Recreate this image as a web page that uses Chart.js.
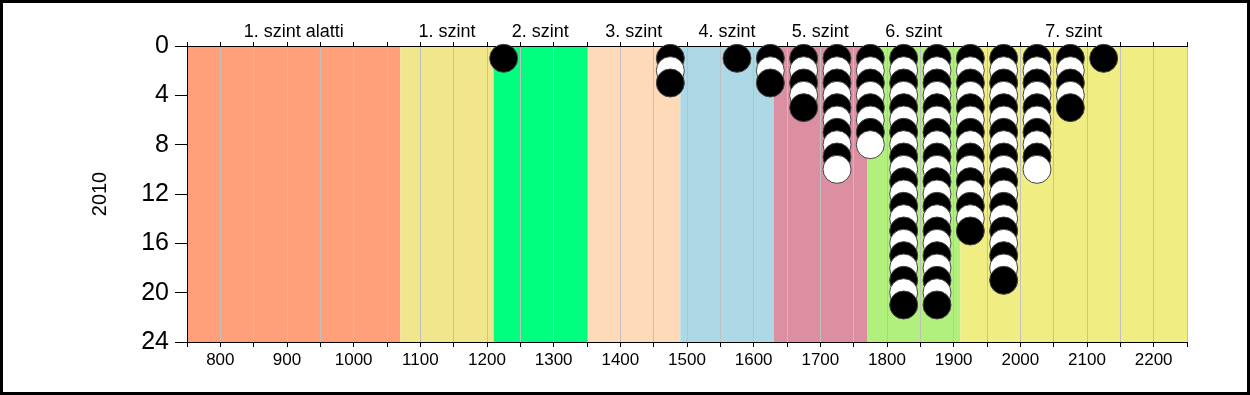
<!DOCTYPE html>
<html>
<head>
<meta charset="utf-8">
<script src="https://cdn.jsdelivr.net/npm/chart.js@4"></script>
<style>
    body { margin: 0; background: #ffffff; }
    canvas { display: block; }
</style>
</head>
<body>
<canvas id="dotChart" width="1250" height="395"></canvas>
<script>
// képességszintek (sávok)
const levelNames = ['1. szint alatti', '1. szint', '2. szint', '3. szint', '4. szint', '5. szint', '6. szint', '7. szint'];
const levelEdges = [750, 1070, 1210, 1350, 1490, 1630, 1770, 1910, 2250];
const levelColors = ['#FFA07A', '#F0E68C', '#00FF7F', '#FFDAB9', '#ADD8E6', '#DC8FA0', '#B2F07E', '#F0EE82'];

// pontoszlopok: x érték és a tanulók száma
const columnX = [1225, 1475, 1575, 1625, 1675, 1725, 1775, 1825, 1875, 1925, 1975, 2025, 2075, 2125];
const columnCounts = [1, 3, 1, 3, 5, 10, 8, 21, 21, 15, 19, 10, 5, 1];

// tengelyek
const xMin = 750, xMax = 2250, xStep = 50;
const yMin = 0, yMax = 24, yStep = 4;
const yTitle = '2010';

const fontFamily = '"Liberation Sans", Arial, sans-serif';

document.addEventListener('DOMContentLoaded', function() {
    const points = [];
    const fills = [];
    columnX.forEach((x, i) => {
        for (let k = 1; k <= columnCounts[i]; k++) {
            points.push({ x: x, y: k });
            fills.push(k % 2 === 1 ? '#000000' : '#ffffff');
        }
    });

    const ctx = document.getElementById('dotChart').getContext('2d');
    new Chart(ctx, {
        type: 'scatter',
        data: {
            datasets: [{
                label: yTitle,
                data: points,
                backgroundColor: fills,
                borderColor: '#444444',
                borderWidth: 1,
                pointRadius: 14,
                pointHoverRadius: 14,
                clip: false
            }]
        },
        options: {
            responsive: false,
            animation: false,
            events: [],
            layout: { padding: { left: 0, right: 63, top: 0, bottom: 0 } },
            scales: {
                x: {
                    type: 'linear',
                    position: 'bottom',
                    min: xMin,
                    max: xMax,
                    afterFit: (scale) => { scale.height = 53; },
                    ticks: {
                        stepSize: xStep,
                        autoSkip: false,
                        maxRotation: 0,
                        padding: 3,
                        color: '#000000',
                        font: { family: fontFamily, size: 17 },
                        callback: (v) => (v % 100 === 0 && v > xMin && v < xMax) ? String(v) : ''
                    },
                    grid: {
                        color: '#C0C0C0',
                        lineWidth: 1,
                        tickColor: '#000000',
                        tickLength: 5
                    },
                    border: { color: '#000000', width: 1 }
                },
                xTop: {
                    type: 'linear',
                    position: 'top',
                    min: xMin,
                    max: xMax,
                    afterFit: (scale) => { scale.height = 46; },
                    ticks: {
                        stepSize: xStep,
                        autoSkip: false,
                        maxRotation: 0,
                        callback: () => ''
                    },
                    grid: {
                        drawOnChartArea: false,
                        tickColor: '#000000',
                        tickLength: 4
                    },
                    border: { color: '#000000', width: 1 }
                },
                y: {
                    type: 'linear',
                    reverse: true,
                    min: yMin,
                    max: yMax,
                    afterFit: (scale) => { scale.width = 187; },
                    ticks: {
                        stepSize: yStep,
                        padding: 6,
                        color: '#000000',
                        font: { family: fontFamily, size: 25 }
                    },
                    grid: {
                        drawOnChartArea: false,
                        tickColor: '#000000',
                        tickLength: 12
                    },
                    border: { color: '#000000', width: 1 }
                }
            },
            plugins: {
                legend: { display: false },
                tooltip: { enabled: false }
            }
        },
        plugins: [levelBands]
    });
});

// színes sávok, sávfeliratok, y tengely cím és keret
const levelBands = {
    id: 'levelBands',
    beforeDraw(chart) {
        const { ctx, chartArea, scales } = chart;
        ctx.save();
        ctx.fillStyle = '#ffffff';
        ctx.fillRect(0, 0, chart.width, chart.height);
        for (let i = 0; i < levelNames.length; i++) {
            const x1 = scales.x.getPixelForValue(levelEdges[i]);
            const x2 = scales.x.getPixelForValue(levelEdges[i + 1]);
            ctx.fillStyle = levelColors[i];
            ctx.fillRect(x1, chartArea.top, x2 - x1, chartArea.bottom - chartArea.top);
        }
        ctx.restore();
    },
    afterDraw(chart) {
        const { ctx, chartArea, scales } = chart;
        ctx.save();
        ctx.fillStyle = '#000000';
        ctx.font = '18px ' + fontFamily;
        ctx.textAlign = 'center';
        ctx.textBaseline = 'alphabetic';
        for (let i = 0; i < levelNames.length; i++) {
            const mid = (levelEdges[i] + levelEdges[i + 1]) / 2;
            ctx.fillText(levelNames[i], scales.x.getPixelForValue(mid), 37);
        }

        // y tengely címe
        ctx.translate(100, (chartArea.top + chartArea.bottom) / 2);
        ctx.rotate(-Math.PI / 2);
        ctx.font = '20px ' + fontFamily;
        ctx.textBaseline = 'middle';
        ctx.fillText(yTitle, 0, 0);
        ctx.restore();

        // külső keret
        ctx.save();
        ctx.strokeStyle = '#000000';
        ctx.lineWidth = 3;
        ctx.strokeRect(1.5, 1.5, chart.width - 3, chart.height - 3);
        ctx.restore();
    }
};
</script>
</body>
</html>
